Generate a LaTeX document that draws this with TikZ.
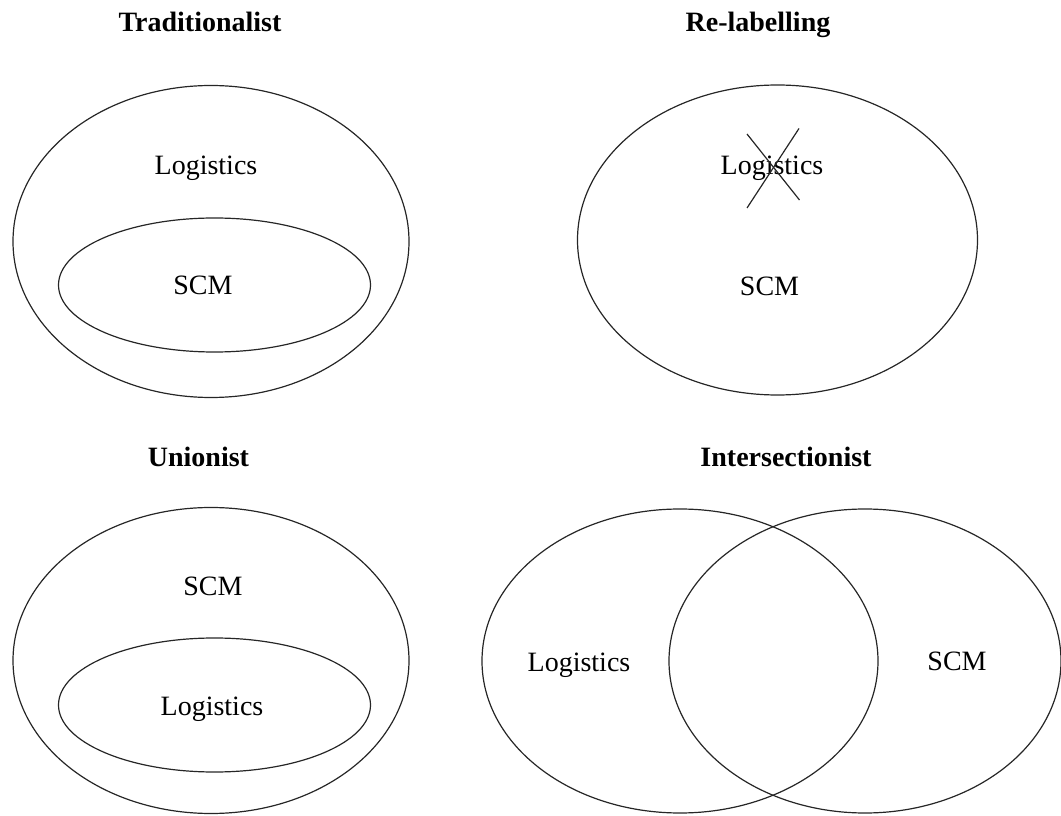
\documentclass[tikz,border=0pt]{standalone}
\usepackage{fontspec}
\setmainfont{Liberation Serif}
\begin{document}
\begin{tikzpicture}[x=0.75pt,y=-0.75pt,
  lbl/.style={anchor=base,inner sep=0pt,font=\fontsize{21}{25}\selectfont},
  ttl/.style={anchor=base,inner sep=0pt,font=\fontsize{21}{25}\selectfont\bfseries},
  ell/.style={draw=black!85,line width=0.9pt},
  crs/.style={draw=black!85,line width=0.9pt}]
\useasboundingbox (0,0) rectangle (1061,816);
% titles
\node[ttl] (t1) at (200,31.7) {Traditionalist};
\node[ttl] (t2) at (758,31.7) {Re-labelling};
\node[ttl] (t3) at (198.5,466.7) {Unionist};
\node[ttl] (t4) at (786,466.7) {Intersectionist};
% Traditionalist
\draw[ell] (211,241.5) ellipse [x radius=148.5pt, y radius=117pt];
\draw[ell] (214.5,285) ellipse [x radius=117pt, y radius=50.25pt];
\node[lbl] (tlLog) at (206,174.5) {Logistics};
\node[lbl] (tlSCM) at (203,295) {SCM};
% Re-labelling
\draw[ell] (777.5,240) ellipse [x radius=150pt, y radius=116.25pt];
\node[lbl] (trLog) at (772,175) {Logistics};
\node[lbl] (trSCM) at (769.5,296) {SCM};
\coordinate (xa1) at (747,134);
\coordinate (xa2) at (799.5,200);
\coordinate (xb1) at (799,128.5);
\coordinate (xb2) at (747,208);
\draw[crs] (xa1) -- (xa2);
\draw[crs] (xb1) -- (xb2);
% Unionist
\draw[ell] (211,660.5) ellipse [x radius=148.5pt, y radius=114.75pt];
\draw[ell] (214.5,705) ellipse [x radius=117pt, y radius=50.25pt];
\node[lbl] (blSCM) at (213,595) {SCM};
\node[lbl] (blLog) at (212,715) {Logistics};
% Intersectionist
\draw[ell] (680,661) ellipse [x radius=148.5pt, y radius=114pt];
\draw[ell] (865,661) ellipse [x radius=147pt, y radius=114pt];
\node[lbl] (brLog) at (579,671.7) {Logistics};
\node[lbl] (brSCM) at (957,670) {SCM};
\end{tikzpicture}
\end{document}
